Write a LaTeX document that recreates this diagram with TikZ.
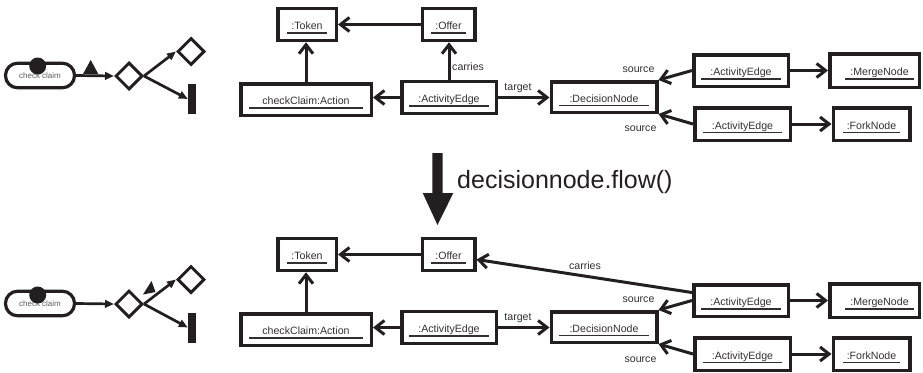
\documentclass[tikz,border=0pt]{standalone}
\usepackage{fontspec}
\setmainfont{Liberation Sans}
\usetikzlibrary{arrows.meta,shapes.geometric,calc}
\definecolor{ink}{RGB}{35,31,32}
\definecolor{txt}{RGB}{50,47,48}
\definecolor{pilltxt}{RGB}{95,92,93}
\newcommand\lblfont{\fontsize{10.6}{12}\selectfont}
\newcommand\obj[2][6pt]{\setbox0=\hbox{#2}\vtop{\hbox{\kern#1\copy0\kern#1}\kern-\dp0\kern2.4pt\hrule height1.3pt}}
\tikzset{
  objbox/.style={draw=ink, line width=3.5pt, text=txt, font=\lblfont, text height=14pt, text depth=3.4pt, inner sep=0pt, minimum height=32pt},
  conn/.style={draw=ink, line width=3pt, -{Straight Barb[length=9pt,width=14pt]}},
  lbl/.style={text=txt, font=\lblfont, inner sep=0pt},
  flowarr/.style={draw=ink, line width=2.7pt, -{Triangle[length=9pt,width=7.5pt]}},
  dia/.style={draw=ink, line width=3pt, shape=diamond, aspect=1, minimum width=27pt, minimum height=27pt, inner sep=0pt},
  barnode/.style={fill=ink, minimum width=8pt, minimum height=30pt, inner sep=0pt},
  pill/.style={draw=ink, line width=3.2pt, rounded corners=12pt, minimum width=69pt, minimum height=24.5pt, inner sep=0pt, text=pilltxt, font=\fontsize{8}{9}\selectfont, text height=6pt, text depth=0pt},
  tokdot/.style={circle, fill=ink, minimum size=17pt, inner sep=0pt},
}
\begin{document}
\begin{tikzpicture}[x=1pt,y=-1pt]
\useasboundingbox (0,0) rectangle (923,372);

% ---------- left activity diagrams ----------
\node[pill] (pill1) at (40,75.5) {check claim};
\node[tokdot] (dot1) at (37.7,66) {};
\node[dia] (dA1) at (129,76) {};
\node[dia] (dB1) at (191,51.5) {};
\node[barnode] (bar1) at (192,99) {};
\draw[flowarr] (pill1.east) -- (dA1.west);
\draw[flowarr] (dA1.east) -- (dB1.west);
\draw[flowarr] (dA1.east) -- (bar1.west);
\fill[ink] (83,74) -- (90.7,60) -- (98.3,74) -- cycle;

\node[pill] (pill2) at (40,303.5) {check claim};
\node[tokdot] (dot2) at (37.7,295) {};
\node[dia] (dA2) at (129,304) {};
\node[dia] (dB2) at (191,279.5) {};
\node[barnode] (bar2) at (192,327.5) {};
\draw[flowarr] (pill2.east) -- (dA2.west);
\draw[flowarr] (dA2.east) -- (dB2.west);
\draw[flowarr] (dA2.east) -- (bar2.west);
\fill[ink] (143,294.5) -- (151.5,281) -- (155.5,292) -- cycle;

% ---------- big transformation arrow ----------
\fill[ink] (432.3,153) -- (442.7,153) -- (442.7,193) -- (453.3,193) -- (437.5,225) -- (422.7,193) -- (432.3,193) -- cycle;
\node[anchor=west, inner sep=0pt, text=ink, font=\fontsize{25}{30}\selectfont] (flowtxt) at (457,182) {decisionnode.flow()};

% ---------- top object diagram ----------
\node[objbox, minimum width=58.5pt] (tok1) at (307,24.5) {\obj[4pt]{:Token}};
\node[objbox, minimum width=52.5pt] (off1) at (448.5,24.5) {\obj[4.5pt]{:Offer}};
\node[objbox, minimum width=130.5pt, minimum height=31.5pt] (act1) at (306,99.5) {\obj[13pt]{checkClaim:Action}};
\node[objbox, minimum width=94.5pt] (ae1) at (449,97.5) {\obj[9pt]{:ActivityEdge}};
\node[objbox, minimum width=105.5pt, minimum height=30.5pt] (dec1) at (604,97) {\obj[11pt]{:DecisionNode}};
\node[objbox, minimum width=94.5pt, minimum height=31.5pt] (aeA1) at (741,70.5) {\obj[9pt]{:ActivityEdge}};
\node[objbox, minimum width=89.5pt, minimum height=33.5pt] (mer1) at (874.5,70.5) {\hspace{10pt}\obj[5pt]{:MergeNode}};
\node[objbox, minimum width=95.5pt, minimum height=32.5pt] (aeB1) at (742.5,124) {\obj[9pt]{:ActivityEdge}};
\node[objbox, minimum width=76.5pt, minimum height=32.5pt] (frk1) at (871.5,124) {\obj[4pt]{:ForkNode}\hspace{10pt}};

\draw[conn] (off1.west) -- (tok1.east);
\draw[conn] (act1.north) -- (act1.north |- tok1.south);
\draw[conn] (ae1.north) -- (ae1.north |- off1.south);
\node[lbl, anchor=west] (car1) at ($(ae1.north)+(3,-13)$) {carries};
\draw[conn] (ae1.west) -- (ae1.west -| act1.east);
\draw[conn] (ae1.east) -- (ae1.east -| dec1.west);
\node[lbl] (tgt1) at ($(ae1.east)+(20,-9)$) {target};
\draw[conn] (aeA1.west) -- (dec1.north east);
\node[lbl] (srcA1) at ($(dec1.north east)+(-20,-10)$) {source};
\draw[conn] (aeB1.west) -- (dec1.south east);
\node[lbl] (srcB1) at ($(dec1.south east)+(-18,15)$) {source};
\draw[conn] (aeA1.east) -- (aeA1.east -| mer1.west);
\draw[conn] (aeB1.east) -- (aeB1.east -| frk1.west);

% ---------- bottom object diagram ----------
\node[objbox, minimum width=58.5pt] (tok2) at (307,254.5) {\obj[4pt]{:Token}};
\node[objbox, minimum width=52.5pt] (off2) at (448.5,254.5) {\obj[4.5pt]{:Offer}};
\node[objbox, minimum width=130.5pt, minimum height=31.5pt] (act2) at (306,329.5) {\obj[13pt]{checkClaim:Action}};
\node[objbox, minimum width=94.5pt] (ae2) at (449,327.5) {\obj[9pt]{:ActivityEdge}};
\node[objbox, minimum width=105.5pt, minimum height=30.5pt] (dec2) at (604,327) {\obj[11pt]{:DecisionNode}};
\node[objbox, minimum width=94.5pt, minimum height=31.5pt] (aeA2) at (741,300.5) {\obj[9pt]{:ActivityEdge}};
\node[objbox, minimum width=89.5pt, minimum height=33.5pt] (mer2) at (874.5,300.5) {\hspace{10pt}\obj[5pt]{:MergeNode}};
\node[objbox, minimum width=95.5pt, minimum height=32.5pt] (aeB2) at (742.5,354) {\obj[9pt]{:ActivityEdge}};
\node[objbox, minimum width=76.5pt, minimum height=32.5pt] (frk2) at (871.5,354) {\obj[4pt]{:ForkNode}\hspace{10pt}};

\draw[conn] (off2.west) -- (tok2.east);
\draw[conn] (act2.north) -- (act2.north |- tok2.south);
\draw[conn] (ae2.west) -- (ae2.west -| act2.east);
\draw[conn] (ae2.east) -- (ae2.east -| dec2.west);
\node[lbl] (tgt2) at ($(ae2.east)+(20,-9)$) {target};
\draw[conn] ([yshift=8pt]aeA2.west) -- ([yshift=-5pt]off2.east);
\node[lbl] (car2) at (585,266) {carries};
\draw[conn] (aeA2.west) -- (dec2.north east);
\node[lbl] (srcA2) at ($(dec2.north east)+(-20,-10)$) {source};
\draw[conn] (aeB2.west) -- (dec2.south east);
\node[lbl] (srcB2) at ($(dec2.south east)+(-18,16)$) {source};
\draw[conn] (aeA2.east) -- (aeA2.east -| mer2.west);
\draw[conn] (aeB2.east) -- (aeB2.east -| frk2.west);
\end{tikzpicture}
\end{document}
